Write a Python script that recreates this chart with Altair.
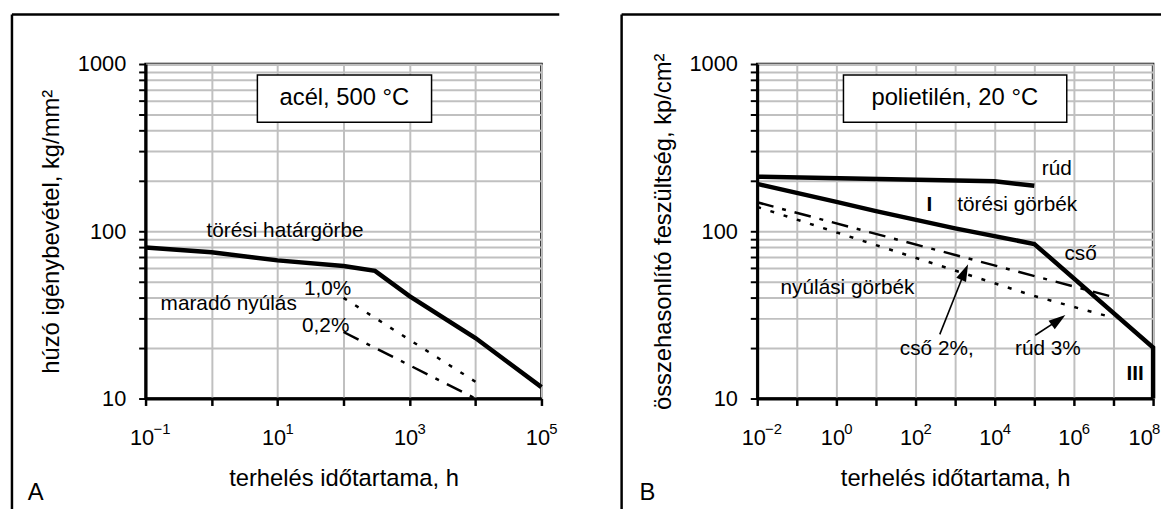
import altair as alt
import pandas as pd

FONT = "Liberation Sans"
W, H = 400, 338

# ---------------- shared y axis ----------------
y_ticks = [10, 20, 30, 40, 50, 60, 70, 80, 90,
           100, 200, 300, 400, 500, 600, 700, 800, 900, 1000]
y_tick_labels = ["10"] + [""] * 8 + ["100"] + [""] * 8 + ["1000"]

# ---------------- panel A: acél, 500 °C ----------------
a_x_ticks = [0.1, 1, 10, 100, 1000, 10000, 100000]
a_x_tick_base = ["10", "", "10", "", "10", "", "10"]
a_x_tick_exp = ["−1", "", "1", "", "3", "", "5"]
a_x_title = "terhelés időtartama, h"
a_y_title = "húzó igénybevétel, kg/mm²"

a_break_t = [0.1, 1, 10, 100, 300, 1000, 10000, 100000]
a_break_s = [80, 75, 67, 62, 58, 41, 23, 11.7]
a_n10_t = [100, 10000]
a_n10_s = [40, 12.6]
a_n02_t = [100, 10000]
a_n02_s = [25, 10]

a_note_text = ["törési határgörbe", "maradó nyúlás", "1,0%", "0,2%"]
a_note_t = [13, 1.82, 57.5, 53.7]
a_note_s = [100, 36.8, 45.2, 27.3]

a_box_text = ["acél, 500 °C"]
a_box_t = [4.95, 2160]
a_box_s = [449, 861]
a_box_center = [103, 622]

# ---------------- panel B: polietilén, 20 °C ----------------
b_x_ticks = [1e-2, 1e-1, 1, 10, 100, 1e3, 1e4, 1e5, 1e6, 1e7, 1e8]
b_x_tick_base = ["10", "", "10", "", "10", "", "10", "", "10", "", "10"]
b_x_tick_exp = ["−2", "", "0", "", "2", "", "4", "", "6", "", "8"]
b_x_title = "terhelés időtartama, h"
b_y_title = "összehasonlító feszültség, kp/cm²"

b_rud_t = [0.01, 1e4, 1e5]
b_rud_s = [212, 199, 187]
b_cso_t = [0.01, 1, 10, 1000, 1e5, 1e8, 1e8]
b_cso_s = [192, 150, 132, 104, 84, 20.2, 10]
b_cso2_t = [0.01, 8e6]
b_cso2_s = [149, 41]
b_rud3_t = [0.01, 1e5, 9e6]
b_rud3_s = [140, 41, 30.6]

b_note_text = ["rúd", "törési görbék", "cső", "nyúlási görbék", "cső 2%,", "rúd 3%"]
b_note_t = [3.7e5, 3.7e4, 1.48e6, 1.91, 344, 2.2e5]
b_note_s = [236, 142.5, 73.1, 46, 19.8, 19.8]
b_bold_text = ["I", "III"]
b_bold_t = [224, 3.5e7]
b_bold_s = [142.5, 14.1]

b_arrow_tail_t = [409, 1.05e5]
b_arrow_tail_s = [24.2, 23.9]
b_arrow_head_t = [1650, 3.7e5]
b_arrow_head_s = [55.5, 29.0]
b_arrow_angle = [24, 54]

b_box_text = ["polietilén, 20 °C"]
b_box_t = [1.51, 6.6e5]
b_box_s = [449, 861]
b_box_center = [977, 622]


def label_expr(values, labels):
    parts = [f"datum.value == {float(v)!r} ? '{l}'" for v, l in zip(values, labels) if l]
    return " : ".join(parts) + " : ''"


def x_enc(dom, ticks, labels, title, last_shift):
    return alt.X(
        "t:Q",
        scale=alt.Scale(type="log", domain=dom, nice=False),
        title=title,
        axis=alt.Axis(
            values=ticks, labelExpr=label_expr(ticks, labels), labelOverlap=False,
            labelFlush=False, grid=True, gridColor="#c0c0c0", gridWidth=2,
            domainColor="black", domainWidth=3, tickColor="black", tickWidth=2.5,
            tickSize=7, labelFont=FONT, labelFontSize=22, labelColor="black",
            labelBaseline="middle", labelAlign="center", labelPadding=32,
            labelOffset={"condition": {"test": f"datum.value == {float(ticks[-1])!r}",
                                       "value": -4 + last_shift},
                         "value": -4},
            titleFont=FONT, titleFontSize=24, titleFontWeight="normal",
            titleColor="black", titleY=81, titleBaseline="middle",
        ),
    )


def y_enc(title):
    return alt.Y(
        "s:Q",
        scale=alt.Scale(type="log", domain=[10, 1000], nice=False),
        title=title,
        axis=alt.Axis(
            values=y_ticks, labelExpr=label_expr(y_ticks, y_tick_labels),
            labelOverlap=False, grid=True, gridColor="#c0c0c0", gridWidth=2,
            domainColor="black", domainWidth=3, tickColor="black", tickWidth=2,
            tickSize=7, labelFont=FONT, labelFontSize=22, labelColor="black",
            labelPadding=13, titleFont=FONT, titleFontSize=24,
            titleFontWeight="normal", titleColor="black", titleX=-95,
            titleY=H / 2, titleAngle=270, titleAlign="center",
            titleBaseline="middle",
        ),
    )


def line_df(t, s):
    return pd.DataFrame({"t": t, "s": s, "i": list(range(len(t)))})


def one():
    return pd.DataFrame({"k": [0]})


def panel(dom, ticks, base, exps, xtitle, ytitle, lines, notes, bolds, box, arrows,
          letter, frame_left, frame_right, last_shift):
    X = x_enc(dom, ticks, base, xtitle, last_shift)
    Y = y_enc(ytitle)
    layers = []
    for t, s, style in lines:
        if style == "solid":
            mk = dict(strokeWidth=4.5)
        elif style == "dot":
            mk = dict(strokeWidth=2.5, strokeDash=[4, 10])
        else:
            mk = dict(strokeWidth=2.5, strokeDash=[17, 9, 4, 9])
        layers.append(
            alt.Chart(line_df(t, s)).mark_line(color="black", strokeCap="butt",
                                               strokeJoin="miter", **mk)
            .encode(x=X, y=Y, order="i:Q")
        )
    text, bt, bs, bc = box
    box_df = pd.DataFrame({"t": [bt[0]], "t2": [bt[1]], "s": [bs[0]], "s2": [bs[1]]})
    layers.append(
        alt.Chart(box_df).mark_rect(fill="white", stroke="black", strokeWidth=1.5)
        .encode(x=X, x2="t2:Q", y=Y, y2="s2:Q")
    )
    box_txt_df = pd.DataFrame({"t": [bc[0]], "s": [bc[1]], "txt": text})
    layers.append(
        alt.Chart(box_txt_df).mark_text(font=FONT, fontSize=24, color="black",
                                        align="center", baseline="middle")
        .encode(x=X, y=Y, text="txt:N")
    )
    nt, ns, ntx = notes
    layers.append(
        alt.Chart(pd.DataFrame({"t": nt, "s": ns, "txt": ntx}))
        .mark_text(font=FONT, fontSize=21, color="black", align="center", baseline="middle")
        .encode(x=X, y=Y, text="txt:N")
    )
    if bolds:
        bt_, bs_, btx = bolds
        layers.append(
            alt.Chart(pd.DataFrame({"t": bt_, "s": bs_, "txt": btx}))
            .mark_text(font=FONT, fontSize=21, fontWeight="bold", color="black",
                       align="center", baseline="middle")
            .encode(x=X, y=Y, text="txt:N")
        )
    if arrows:
        tt, ts, ht, hs, ang = arrows
        adf = pd.DataFrame({"t": tt, "s": ts, "t2": ht, "s2": hs})
        layers.append(
            alt.Chart(adf).mark_rule(color="black", strokeWidth=1.6)
            .encode(x=X, y=Y, x2="t2:Q", y2="s2:Q")
        )
        hdf = pd.DataFrame({"t": ht, "s": hs, "ang": ang})
        layers.append(
            alt.Chart(hdf).mark_point(shape="M0,-1L0.5,0.6L-0.5,0.6Z", filled=True,
                                      color="black", size=460, opacity=1)
            .encode(x=X, y=Y, angle=alt.Angle("ang:Q", scale=None))
        )
    # superscript exponents of the x tick labels
    ex = [(t, e) for t, e in zip(ticks, exps) if e]
    exp_df = pd.DataFrame({"t": [t for t, _ in ex[:-1]], "e": [e for _, e in ex[:-1]]})
    last_df = pd.DataFrame({"t": [ex[-1][0]], "e": [ex[-1][1]]})
    layers.append(
        alt.Chart(exp_df).mark_text(font=FONT, fontSize=15, color="black", align="left",
                                    baseline="middle", dx=8)
        .encode(x=X, y=alt.value(H + 31), text="e:N")
    )
    layers.append(
        alt.Chart(last_df).mark_text(font=FONT, fontSize=15, color="black", align="left",
                                     baseline="middle", dx=8 + last_shift)
        .encode(x=X, y=alt.value(H + 31), text="e:N")
    )
    # frame around the panel
    fr = alt.Chart(one())
    layers.append(fr.mark_rule(color="black", strokeWidth=2.5).encode(
        x=alt.value(frame_left), y=alt.value(-50), y2=alt.value(460)))
    layers.append(fr.mark_rule(color="black", strokeWidth=2.5).encode(
        x=alt.value(frame_left), x2=alt.value(frame_right), y=alt.value(-50)))
    if frame_right < 417:
        layers.append(fr.mark_rule(color="black", strokeWidth=2.5).encode(
            x=alt.value(frame_right), y=alt.value(-50), y2=alt.value(460)))
    layers.append(fr.mark_text(font=FONT, fontSize=24, color="black", align="center",
                               baseline="middle").encode(
        x=alt.value(-111), y=alt.value(434), text=alt.value(letter)))
    return alt.layer(*layers).properties(width=W, height=H)


panel_a = panel(
    [0.1, 1e5], a_x_ticks, a_x_tick_base, a_x_tick_exp, a_x_title, a_y_title,
    [(a_break_t, a_break_s, "solid"), (a_n10_t, a_n10_s, "dot"), (a_n02_t, a_n02_s, "dashdot")],
    (a_note_t, a_note_s, a_note_text), None,
    (a_box_text, a_box_t, a_box_s, a_box_center), None, "A", -135, 418, 0,
)

panel_b = panel(
    [1e-2, 1e8], b_x_ticks, b_x_tick_base, b_x_tick_exp, b_x_title, b_y_title,
    [(b_rud_t, b_rud_s, "solid"), (b_cso_t, b_cso_s, "solid"),
     (b_cso2_t, b_cso2_s, "dashdot"), (b_rud3_t, b_rud3_s, "dot")],
    (b_note_t, b_note_s, b_note_text), (b_bold_t, b_bold_s, b_bold_text),
    (b_box_text, b_box_t, b_box_s, b_box_center),
    (b_arrow_tail_t, b_arrow_tail_s, b_arrow_head_t, b_arrow_head_s, b_arrow_angle),
    "B", -137, 420, -9,
)

chart = (
    alt.hconcat(panel_a, panel_b, spacing=57)
    .properties(padding={"left": 1, "top": 1, "right": -15, "bottom": -16})
    .configure(font=FONT)
    .configure_view(stroke="black", strokeWidth=2.5)
    .configure_axis(zindex=0)
)

chart.save("out.html", embed_options={"renderer": "svg", "actions": False})
